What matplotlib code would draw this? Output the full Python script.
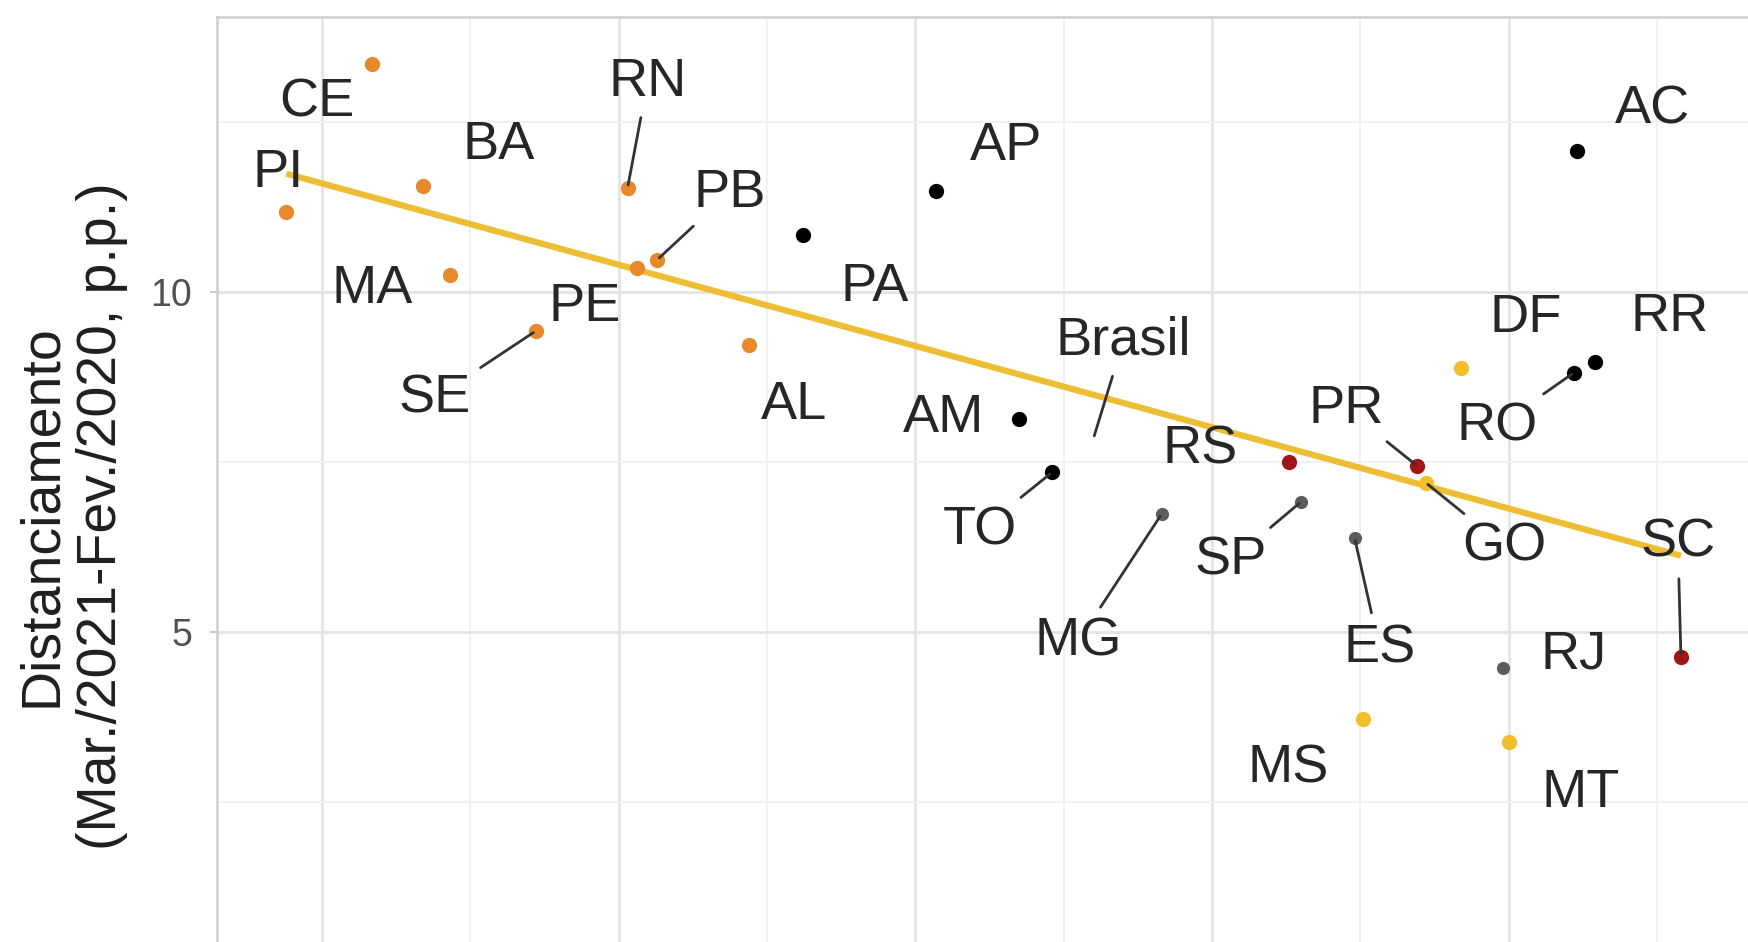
import matplotlib
matplotlib.use("Agg")
import matplotlib.pyplot as plt
from matplotlib.ticker import MultipleLocator, FixedLocator
import numpy as np

plt.rcParams['font.family'] = ['Liberation Sans', 'DejaVu Sans']

# --- data -------------------------------------------------------------
states = ["PI", "CE", "BA", "MA", "SE", "RN", "PE", "PB", "AL",
          "PA", "AP", "AM", "TO", "RO", "AC", "RR",
          "MG", "SP", "ES", "RJ",
          "RS", "PR", "SC",
          "MS", "GO", "DF", "MT"]
regions = (["Nordeste"] * 9 + ["Norte"] * 7 + ["Sudeste"] * 4
           + ["Sul"] * 3 + ["Centro-Oeste"] * 4)
# Bolsonaro vote share, 1st round 2018 (%)
bolsonaro_1t = [18.8, 21.7, 23.4, 24.3, 27.2, 30.3, 30.6, 31.3, 34.4,
                36.2, 40.7, 43.5, 44.6, 62.2, 62.3, 62.9,
                48.3, 53.0, 54.8, 59.8,
                52.6, 56.9, 65.8,
                55.1, 57.2, 58.4, 60.0]
# Distanciamento (Mar./2021 - Fev./2020, p.p.)
distanciamento = [11.18, 13.36, 11.56, 10.25, 9.43, 11.54, 10.36, 10.48, 9.23,
                  10.84, 11.49, 8.13, 7.35, 8.82, 12.08, 8.97,
                  6.74, 6.92, 6.39, 4.48,
                  7.51, 7.45, 4.64,
                  3.72, 7.20, 8.88, 3.38]
brasil_label = "Brasil"
brasil_x = 46.0
brasil_y = 7.85

y_ticks = [5, 10]
y_tick_labels = ["5", "10"]
y_title = "Distanciamento\n(Mar./2021-Fev./2020, p.p.)"

# --- styling ------------------------------------------------------------
region_colors = {
    "Nordeste": "#E8892B",
    "Norte": "#000000",
    "Sudeste": "#5c5c5c",
    "Sul": "#A01616",
    "Centro-Oeste": "#F2BF2A",
}
region_sizes = {"Nordeste": 11, "Norte": 11, "Sudeste": 9.5,
                "Sul": 11, "Centro-Oeste": 11}
fit_color = "#EDBE33"
text_color = "#262626"

# label offsets from each point (pixels) and which labels get a leader line
label_offsets = {
    "PI": (-8, 39), "CE": (-56, -39), "BA": (76, 41), "MA": (-77, -14),
    "SE": (-101, -67), "PE": (-52, -39), "RN": (20, 106), "PB": (72, 67),
    "AL": (45, -60), "PA": (72, -52), "AP": (70, 45), "AM": (-76, 1),
    "TO": (-72, -58), "MG": (-84, -128), "RS": (-89, 12), "SP": (-70, -59),
    "ES": (25, -111), "PR": (-71, 57), "GO": (79, -64), "DF": (64, 50),
    "MS": (-75, -49), "RJ": (71, 13), "MT": (72, -51), "RO": (-77, -54),
    "RR": (75, 45), "AC": (75, 41), "SC": (-3, 114),
    "Brasil": (30, 98),
}
with_segment = {"SE", "RN", "PB", "TO", "MG", "SP", "ES", "PR", "GO",
                "RO", "SC", "Brasil"}

# --- figure -------------------------------------------------------------
W, H = 1748, 942
fig = plt.figure(figsize=(W / 100, H / 100), dpi=100)
fig.patch.set_facecolor("white")

x_lo, x_hi = 16.46, 70.0
y_lo, y_hi = -0.69, 14.05
px_x = 29.67
px_y = 67.98
left_px, top_px = 217, 17
ax_w = (x_hi - x_lo) * px_x
ax_h = (y_hi - y_lo) * px_y
ax = fig.add_axes([left_px / W, 1 - (top_px + ax_h) / H, ax_w / W, ax_h / H])
ax.set_xlim(x_lo, x_hi)
ax.set_ylim(y_lo, y_hi)
ax.set_facecolor("white")

ax.xaxis.set_major_locator(MultipleLocator(10))
ax.xaxis.set_minor_locator(MultipleLocator(5))
ax.yaxis.set_major_locator(FixedLocator(y_ticks))
ax.yaxis.set_minor_locator(FixedLocator([2.5, 7.5, 12.5]))
ax.set_yticklabels(y_tick_labels)
ax.set_axisbelow(True)
ax.grid(which="major", color="#e4e4e4", lw=2.0)
ax.grid(which="minor", color="#f1f1f1", lw=1.5)
for sp in ax.spines.values():
    sp.set_color("#cfcfcf")
    sp.set_linewidth(1.8)
ax.tick_params(axis="x", which="both", length=0, labelbottom=False)
ax.tick_params(axis="y", which="major", length=5, width=1.3, color="#c4c4c4",
               labelsize=27, labelcolor="#505050", pad=13)
ax.tick_params(axis="y", which="minor", length=0)

# linear fit over the states
x = np.array(bolsonaro_1t)
y = np.array(distanciamento)
slope, intercept = np.polyfit(x, y, 1)
xs = np.array([x.min(), x.max()])
ax.plot(xs, intercept + slope * xs, color=fit_color, lw=4.5,
        solid_capstyle="butt", zorder=2)

# points by region
for st, xi, yi, rg in zip(states, bolsonaro_1t, distanciamento, regions):
    ax.plot(xi, yi, "o", ms=region_sizes[rg], color=region_colors[rg],
            mec="none", zorder=3)

# labels
def put_label(name, xi, yi):
    dx, dy = label_offsets[name]
    arrow = None
    if name in with_segment:
        arrow = dict(arrowstyle="-", color="#333333", lw=2.0,
                     shrinkA=6, shrinkB=2)
    ax.annotate(name, xy=(xi, yi), xytext=(dx, dy),
                textcoords="offset pixels", ha="center", va="center",
                fontsize=39, color=text_color, arrowprops=arrow, zorder=4)

for st, xi, yi in zip(states, bolsonaro_1t, distanciamento):
    put_label(st, xi, yi)
put_label(brasil_label, brasil_x, brasil_y)

fig.text(72 / W, 1 - 516 / H, y_title, rotation=90, ha="center",
         va="center", fontsize=40, color="#1f1f1f", multialignment="center")

fig.savefig("out.png", dpi=100, facecolor="white")
